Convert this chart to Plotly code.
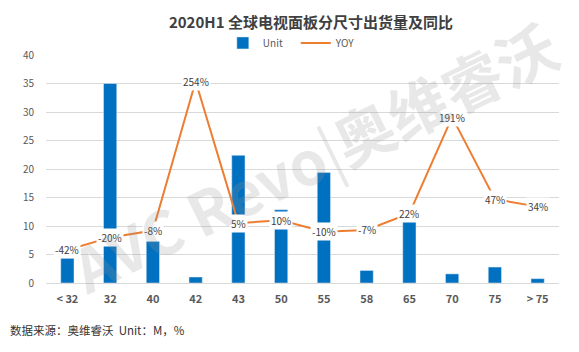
import plotly.graph_objects as go

categories = ["< 32", "32", "40", "42", "43", "50", "55", "58", "65", "70", "75", "> 75"]
unit_values = [4.4, 35.0, 7.3, 1.05, 22.4, 12.85, 19.4, 2.2, 10.8, 1.6, 2.8, 0.76]
yoy_values = [-0.42, -0.20, -0.08, 2.54, 0.05, 0.10, -0.10, -0.07, 0.22, 1.91, 0.47, 0.34]
yoy_labels = ["-42%", "-20%", "-8%", "254%", "5%", "10%", "-10%", "-7%", "22%", "191%", "47%", "34%"]

FONT = "Noto Sans CJK SC"
BLUE = "#0070C0"
ORANGE = "#ED7D31"

fig = go.Figure()
fig.add_trace(go.Bar(x=categories, y=unit_values, name="Unit", marker_color=BLUE, yaxis="y"))
fig.add_trace(go.Scatter(x=categories, y=yoy_values, name="YOY", mode="lines",
                         line=dict(color=ORANGE, width=2), yaxis="y2"))

annotations = []
for i, (v, t) in enumerate(zip(yoy_values, yoy_labels)):
    annotations.append(dict(x=i, y=v, xref="x", yref="y2", text=t, showarrow=False,
                            bgcolor="white", borderpad=1,
                            font=dict(family=FONT, size=10, color="#404040")))

# watermark
annotations.append(dict(x=0.52, y=0.56, xref="paper", yref="paper",
                        text="<b>AVC Revo</b>|<b>奥维睿沃</b>", showarrow=False,
                        textangle=-26, font=dict(family=FONT, size=60, color="rgba(150,150,150,0.22)")))

annotations.append(dict(x=-0.074, y=-0.206, xref="paper", yref="paper", showarrow=False,
                        text="数据来源：奥维睿沃  Unit：M，%", xanchor="left", yanchor="middle",
                        font=dict(family=FONT, size=11.5, color="#333333")))

fig.update_layout(
    width=579, height=352,
    margin=dict(l=46, r=20, t=55, b=69),
    paper_bgcolor="white", plot_bgcolor="white",
    title=dict(text="<b>2020H1 全球电视面板分尺寸出货量及同比</b>", x=0.537, xanchor="center",
               y=0.935, yanchor="middle", font=dict(family=FONT, size=15, color="#404040")),
    legend=dict(orientation="h", x=(223 - 46) / 513.5, xanchor="left", y=1.053, yanchor="middle",
                entrywidth=28, entrywidthmode="pixels",
                font=dict(family=FONT, size=10, color="#595959"), bgcolor="rgba(0,0,0,0)"),
    bargap=0.69,
    xaxis=dict(tickfont=dict(family=FONT, size=11, color="#595959", weight="bold"),
               showgrid=False, showline=True, linecolor="#D9D9D9", ticks="", ticklabelstandoff=6),
    yaxis=dict(range=[0, 40], dtick=5, showgrid=True, gridcolor="#D9D9D9", zeroline=False,
               tickfont=dict(family=FONT, size=10, color="#595959"), ticks="", ticklabelstandoff=11),
    yaxis2=dict(range=[-1, 3], overlaying="y", side="right", visible=False, showgrid=False),
    annotations=annotations,
    font=dict(family=FONT),
)

fig.write_html("out.html")
